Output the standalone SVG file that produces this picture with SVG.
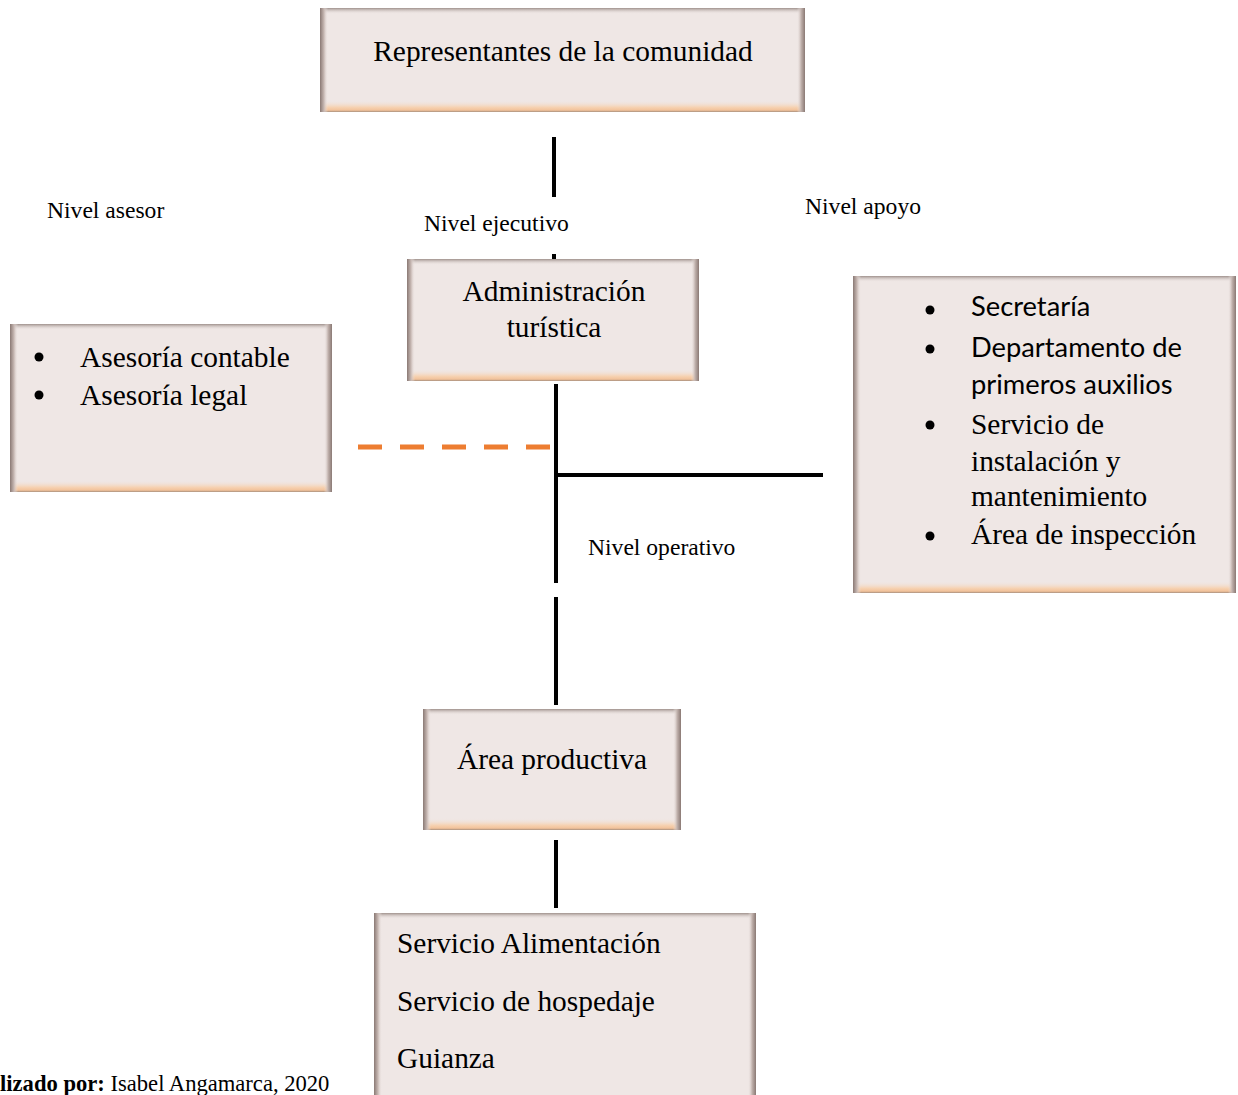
<svg xmlns="http://www.w3.org/2000/svg" width="1238" height="1095" viewBox="0 0 1238 1095">
<style>
.box{fill:#efe7e5}
.t{font-family:"Liberation Serif","Times New Roman",serif;font-size:29.4px;fill:#000}
.s{font-family:Lato,"Noto Sans",sans-serif;font-size:27.3px;fill:#000}
.lbl{font-family:"Liberation Serif","Times New Roman",serif;font-size:23.6px;fill:#000}
.foot{font-family:"Liberation Serif","Times New Roman",serif;font-size:22.6px;fill:#000}
.ln{stroke:#000;stroke-width:4;fill:none}
.dash{stroke:#ed7d31;stroke-width:5;stroke-dasharray:24 18;fill:none}
.bul{fill:#000}
</style>
<defs>
<linearGradient id="gL" x1="0" y1="0" x2="1" y2="0"><stop offset="0" stop-color="#8a7974"/><stop offset="0.5" stop-color="#c7b8b3"/><stop offset="1" stop-color="#efe7e5" stop-opacity="0"/></linearGradient>
<linearGradient id="gR" x1="1" y1="0" x2="0" y2="0"><stop offset="0" stop-color="#8a7974"/><stop offset="0.5" stop-color="#c2b3ae"/><stop offset="1" stop-color="#efe7e5" stop-opacity="0"/></linearGradient>
<linearGradient id="gT" x1="0" y1="0" x2="0" y2="1"><stop offset="0" stop-color="#9f918c"/><stop offset="1" stop-color="#efe7e5" stop-opacity="0"/></linearGradient>
<linearGradient id="gB" x1="0" y1="0" x2="0" y2="1"><stop offset="0" stop-color="#efe7e5" stop-opacity="0"/><stop offset="0.6" stop-color="#f6d2b2"/><stop offset="0.85" stop-color="#f2c29a"/><stop offset="1" stop-color="#a8907f"/></linearGradient>
</defs>

<g id="connectors">
<line class="ln" x1="554" y1="137" x2="554" y2="197"/>
<line class="ln" x1="554" y1="254" x2="554" y2="260"/>
<line class="ln" x1="556" y1="384" x2="556" y2="583"/>
<line class="ln" x1="556" y1="597" x2="556" y2="705"/>
<line class="ln" x1="556" y1="475" x2="823" y2="475"/>
<line class="dash" x1="358" y1="447" x2="550" y2="447"/>
<line class="ln" x1="556" y1="840" x2="556" y2="908"/>
</g>

<g id="labels">
<text class="lbl" x="47" y="218">Nivel asesor</text>
<text class="lbl" x="424" y="231">Nivel ejecutivo</text>
<text class="lbl" x="805" y="214">Nivel apoyo</text>
<text class="lbl" x="588" y="555">Nivel operativo</text>
<text class="foot" x="0" y="1091"><tspan font-weight="bold">lizado por:</tspan> Isabel Angamarca, 2020</text>
</g>

<g id="representantes">
<rect class="box" x="320" y="8" width="485" height="104"/>
<rect x="320" y="8" width="485" height="6" fill="url(#gT)"/>
<rect x="320" y="100" width="485" height="12" fill="url(#gB)"/>
<rect x="320" y="8" width="8" height="104" fill="url(#gL)"/>
<rect x="797" y="8" width="8" height="104" fill="url(#gR)"/>
<text class="t" x="563" y="61" text-anchor="middle">Representantes de la comunidad</text>
</g>

<g id="administracion">
<rect class="box" x="407" y="259" width="292" height="122"/>
<rect x="407" y="259" width="292" height="6" fill="url(#gT)"/>
<rect x="407" y="369" width="292" height="12" fill="url(#gB)"/>
<rect x="407" y="259" width="8" height="122" fill="url(#gL)"/>
<rect x="691" y="259" width="8" height="122" fill="url(#gR)"/>
<text class="t" x="554" y="301" text-anchor="middle">Administración</text>
<text class="t" x="554" y="337" text-anchor="middle">turística</text>
</g>

<g id="asesoria">
<rect class="box" x="10" y="324" width="322" height="168"/>
<rect x="10" y="324" width="322" height="6" fill="url(#gT)"/>
<rect x="10" y="480" width="322" height="12" fill="url(#gB)"/>
<rect x="10" y="324" width="8" height="168" fill="url(#gL)"/>
<rect x="324" y="324" width="8" height="168" fill="url(#gR)"/>
<circle class="bul" cx="39" cy="357" r="4.5"/>
<circle class="bul" cx="39" cy="395" r="4.5"/>
<text class="t" x="80" y="367">Asesoría contable</text>
<text class="t" x="80" y="405">Asesoría legal</text>
</g>

<g id="apoyo">
<rect class="box" x="853" y="276" width="383" height="317"/>
<rect x="853" y="276" width="383" height="6" fill="url(#gT)"/>
<rect x="853" y="581" width="383" height="12" fill="url(#gB)"/>
<rect x="853" y="276" width="8" height="317" fill="url(#gL)"/>
<rect x="1228" y="276" width="8" height="317" fill="url(#gR)"/>
<circle class="bul" cx="930" cy="310" r="4.5"/>
<circle class="bul" cx="930" cy="349" r="4.5"/>
<circle class="bul" cx="930" cy="425" r="4.5"/>
<circle class="bul" cx="930" cy="536" r="4.5"/>
<text class="s" x="971" y="316">Secretaría</text>
<text class="s" x="971" y="357">Departamento de</text>
<text class="s" x="971" y="394">primeros auxilios</text>
<text class="t" x="971" y="434">Servicio de</text>
<text class="t" x="971" y="471">instalación y</text>
<text class="t" x="971" y="506">mantenimiento</text>
<text class="t" x="971" y="544">Área de inspección</text>
</g>

<g id="productiva">
<rect class="box" x="423" y="709" width="258" height="121"/>
<rect x="423" y="709" width="258" height="6" fill="url(#gT)"/>
<rect x="423" y="818" width="258" height="12" fill="url(#gB)"/>
<rect x="423" y="709" width="8" height="121" fill="url(#gL)"/>
<rect x="673" y="709" width="8" height="121" fill="url(#gR)"/>
<text class="t" x="552" y="769" text-anchor="middle">Área productiva</text>
</g>

<g id="servicios">
<rect class="box" x="374" y="913" width="382" height="190"/>
<rect x="374" y="913" width="382" height="6" fill="url(#gT)"/>
<rect x="374" y="913" width="8" height="190" fill="url(#gL)"/>
<rect x="748" y="913" width="8" height="190" fill="url(#gR)"/>
<text class="t" x="397" y="953">Servicio Alimentación</text>
<text class="t" x="397" y="1011">Servicio de hospedaje</text>
<text class="t" x="397" y="1068">Guianza</text>
</g>
</svg>
